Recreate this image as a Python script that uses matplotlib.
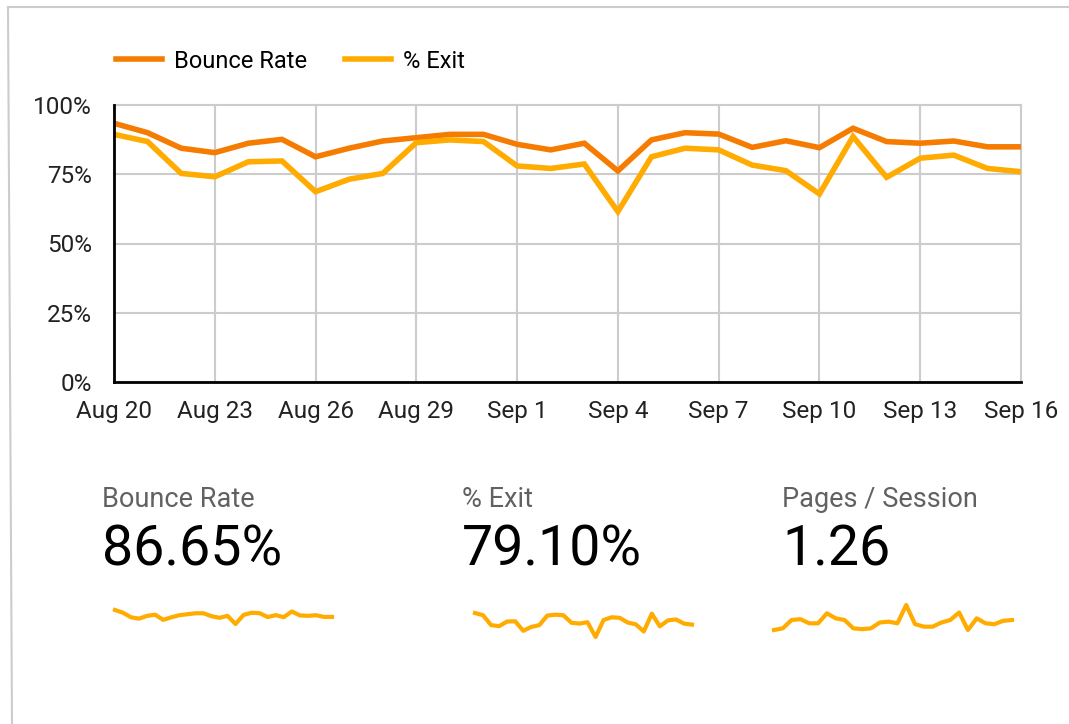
import matplotlib
matplotlib.use('Agg')
import matplotlib.pyplot as plt
from matplotlib.lines import Line2D

plt.rcParams['font.family'] = ['Roboto', 'DejaVu Sans']

# daily values, Aug 20 .. Sep 16
days = ['Aug 20', 'Aug 21', 'Aug 22', 'Aug 23', 'Aug 24', 'Aug 25', 'Aug 26',
        'Aug 27', 'Aug 28', 'Aug 29', 'Aug 30', 'Aug 31', 'Sep 1', 'Sep 2',
        'Sep 3', 'Sep 4', 'Sep 5', 'Sep 6', 'Sep 7', 'Sep 8', 'Sep 9',
        'Sep 10', 'Sep 11', 'Sep 12', 'Sep 13', 'Sep 14', 'Sep 15', 'Sep 16']
bounce_rate = [93.4, 90.0, 84.4, 82.8, 86.2, 87.6, 81.3, 84.4, 87.0, 88.2,
               89.4, 89.4, 85.8, 83.8, 86.2, 76.2, 87.4, 90.0, 89.5, 84.7,
               87.1, 84.6, 91.6, 86.8, 86.2, 87.0, 84.9, 84.9]
exit_rate = [89.4, 86.8, 75.3, 74.1, 79.5, 79.8, 68.7, 73.2, 75.3, 86.4,
             87.4, 86.8, 78.0, 77.1, 78.7, 61.5, 81.3, 84.4, 83.8, 78.3,
             76.3, 67.9, 88.6, 73.9, 80.8, 81.9, 77.1, 75.9]
pages_session = [1.17, 1.19, 1.29, 1.30, 1.25, 1.25, 1.37, 1.31, 1.29, 1.19,
                 1.18, 1.19, 1.26, 1.27, 1.25, 1.47, 1.24, 1.21, 1.21, 1.26,
                 1.29, 1.38, 1.17, 1.31, 1.25, 1.24, 1.28, 1.29]

scorecards = [('Bounce Rate', '86.65%', bounce_rate),
              ('% Exit', '79.10%', exit_rate),
              ('Pages / Session', '1.26', pages_session)]

ORANGE = '#F57C00'
AMBER = '#FFAB00'
W, H = 1069, 724


def box(x0, y0, x1, y1):
    # pixel box (top-left origin) -> figure fraction rect
    return [x0 / W, 1 - y1 / H, (x1 - x0) / W, (y1 - y0) / H]


fig = plt.figure(figsize=(W / 100, H / 100), dpi=100)

# card border
fig.add_artist(Line2D([8 / W, 1], [1 - 7 / H, 1 - 7 / H], color='#cccccc', lw=1.5))
fig.add_artist(Line2D([8 / W, 12 / W], [1 - 7 / H, 0], color='#cccccc', lw=1.5))

ax = fig.add_axes(box(114, 105, 1021, 382))
x = list(range(len(days)))
ax.plot(x, bounce_rate, color=ORANGE, lw=4, label='Bounce Rate', solid_joinstyle='miter', zorder=3)
ax.plot(x, exit_rate, color=AMBER, lw=4, label='% Exit', solid_joinstyle='miter', zorder=3)
ax.set_xlim(0, len(days) - 1)
ax.set_ylim(0, 100)
ax.set_xticks(x[::3])
ax.set_xticklabels(days[::3])
ax.set_yticks([0, 25, 50, 75, 100])
ax.set_yticklabels(['0%', '25%', '50%', '75%', '100%'])
ax.tick_params(length=0, labelsize=17.5, colors='#222222')
ax.tick_params(axis='x', pad=13)
ax.tick_params(axis='y', pad=16)
ax.grid(True, color='#cccccc', lw=1.5)
for g in ax.get_xgridlines() + ax.get_ygridlines():
    g.set_clip_on(False)
ax.set_axisbelow(True)
for s in ['top', 'right']:
    ax.spines[s].set_visible(False)
for s in ['left', 'bottom']:
    ax.spines[s].set_linewidth(2)
    ax.spines[s].set_color('black')
    ax.spines[s].set_zorder(4)

fig.legend(loc='center left', bbox_to_anchor=(95 / W, 1 - 61 / H), ncol=2,
           frameon=False, fontsize=17, handlelength=1.95, handletextpad=0.5,
           columnspacing=1.6)

# scorecards
card_x = [102, 462, 782]
spark_box = [(115, 610, 332, 624), (475, 613, 692, 637), (774, 605, 1012, 630)]
for (title, value, series), cx, sb in zip(scorecards, card_x, spark_box):
    fig.text(cx / W, 1 - 507 / H, title, fontsize=19.5, color='#616161', va='baseline')
    fig.text(cx / W, 1 - 565 / H, value, fontsize=40, color='black', va='baseline')
    sx = fig.add_axes(box(*sb))
    sx.plot(range(len(series)), series, color=AMBER, lw=3, clip_on=False)
    sx.set_xlim(0, len(series) - 1)
    sx.set_ylim(min(series), max(series))
    sx.axis('off')

fig.savefig('out.png', dpi=100)
